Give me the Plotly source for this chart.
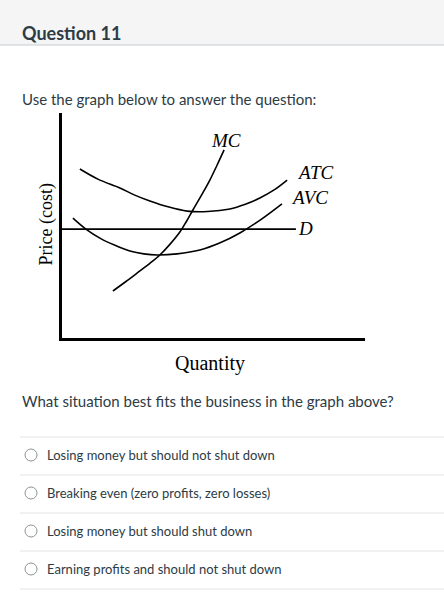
import plotly.graph_objects as go

W, H = 444, 609

# Curves (x = quantity, y = price, 0-100 scale)
atc_x = [5.9, 12.0, 19.1, 24.0, 29.0, 35.0, 41.3, 48.0, 55.4, 60.5, 65.3, 70.0, 74.3]
atc_y = [75.1, 70.5, 66.7, 63.5, 60.9, 58.3, 56.4, 56.2, 57.3, 59.4, 62.2, 65.8, 70.2]
avc_x = [3.6, 8.0, 12.5, 17.5, 22.4, 27.0, 31.4, 38.0, 45.5, 52.0, 58.7, 65.5, 72.6]
avc_y = [53.3, 48.3, 44.4, 41.2, 38.7, 37.4, 36.9, 37.4, 39.1, 42.2, 46.7, 52.5, 59.6]
mc_x = [16.8, 21.0, 25.7, 29.0, 32.3, 35.6, 38.9, 41.1, 43.2, 46.0, 48.8, 51.2, 53.5]
mc_y = [20.9, 25.0, 29.8, 33.2, 36.9, 41.6, 47.1, 51.9, 56.9, 63.4, 70.2, 76.9, 83.6]
d_x = [0, 77.2]
d_y = [48.4, 48.4]

options = [
    "Losing money but should not shut down",
    "Breaking even (zero profits, zero losses)",
    "Losing money but should shut down",
    "Earning profits and should not shut down",
]


def px(x):
    return x / W


def py(y):
    return 1 - y / H


fig = go.Figure()
line = dict(color="black", width=1.6, shape="spline")
for xs, ys in [(atc_x, atc_y), (avc_x, avc_y), (mc_x, mc_y)]:
    fig.add_trace(go.Scatter(x=xs, y=ys, mode="lines", line=line, hoverinfo="skip"))
fig.add_trace(go.Scatter(x=d_x, y=d_y, mode="lines",
                         line=dict(color="black", width=1.6), hoverinfo="skip"))

serif = "Liberation Serif"
sans = "Lato"
ann = []
for txt, x, y in [("MC", 54, 88), ("ATC", 83.5, 73.5), ("AVC", 81.8, 62.5), ("D", 80.5, 48.8)]:
    ann.append(dict(x=x, y=y, xref="x", yref="y", text=f"<i>{txt}</i>", showarrow=False,
                    font=dict(family=serif, size=19, color="black")))
ann += [
    dict(x=px(20), y=py(20), xref="paper", yref="paper", xanchor="left", text="<b>Question 11</b>",
         showarrow=False, font=dict(family=sans, size=18, color="#2d3b45")),
    dict(x=px(20), y=py(88), xref="paper", yref="paper", xanchor="left",
         text="Use the graph below to answer the question:", showarrow=False,
         font=dict(family=sans, size=15, color="#2d3b45")),
    dict(x=px(33), y=py(225), xref="paper", yref="paper", text="Price (cost)", textangle=-90,
         showarrow=False, font=dict(family=serif, size=18, color="black")),
    dict(x=px(210), y=py(363), xref="paper", yref="paper", text="Quantity",
         showarrow=False, font=dict(family=serif, size=20, color="black")),
    dict(x=px(20), y=py(401), xref="paper", yref="paper", xanchor="left",
         text="What situation best fits the business in the graph above?", showarrow=False,
         font=dict(family=sans, size=15, color="#2d3b45")),
]

shapes = [
    dict(type="rect", xref="paper", yref="paper", x0=0, x1=1, y0=py(45), y1=1,
         fillcolor="#f5f5f5", line=dict(width=0), layer="below"),
    dict(type="line", xref="paper", yref="paper", x0=0, x1=1, y0=py(45), y1=py(45),
         line=dict(color="#c7cdd1", width=1)),
]
for i, opt in enumerate(options):
    yc = 455 + 38 * i
    shapes.append(dict(type="line", xref="paper", yref="paper", x0=px(20), x1=1,
                       y0=py(yc - 18), y1=py(yc - 18), line=dict(color="#dfe2e5", width=1)))
    shapes.append(dict(type="circle", xref="paper", yref="paper", x0=px(25), x1=px(37),
                       y0=py(yc + 6), y1=py(yc - 6), line=dict(color="#8a9499", width=1)))
    ann.append(dict(x=px(45), y=py(yc), xref="paper", yref="paper", xanchor="left",
                    yanchor="middle", text=opt,
                    showarrow=False, font=dict(family=sans, size=13, color="#2d3b45")))
shapes.append(dict(type="line", xref="paper", yref="paper", x0=px(20), x1=1,
                   y0=py(589), y1=py(589), line=dict(color="#dfe2e5", width=1)))

axis = dict(showgrid=False, zeroline=False, showticklabels=False, ticks="",
            showline=True, linecolor="black", linewidth=2.5, range=[0, 100])
fig.update_layout(
    width=W, height=H, margin=dict(l=0, r=0, t=0, b=0),
    paper_bgcolor="white", plot_bgcolor="white", showlegend=False,
    xaxis=dict(axis, domain=[px(62), px(365)]),
    yaxis=dict(axis, domain=[py(338), py(113)]),
    annotations=ann, shapes=shapes,
)

fig.write_html("out.html", config={"displayModeBar": False},
               post_script="document.body.style.margin='0';document.body.style.overflow='hidden';")
